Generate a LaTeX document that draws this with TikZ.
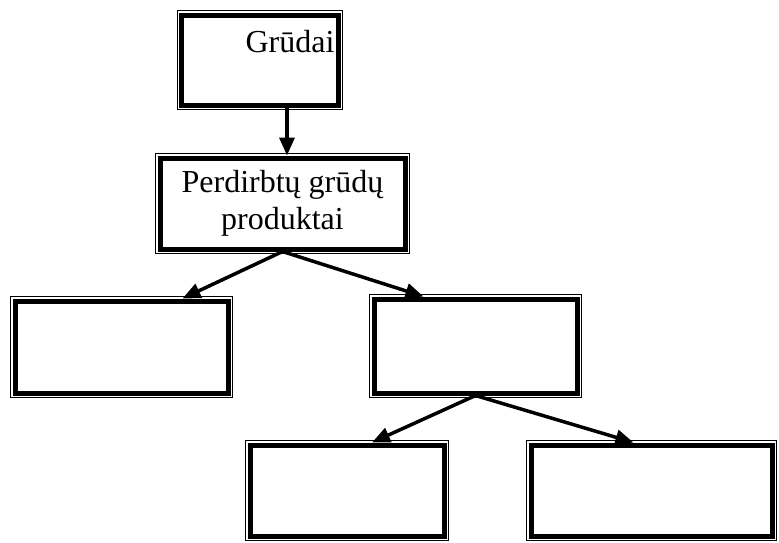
\documentclass[tikz,border=0pt]{standalone}
\usepackage{fontspec}
\setmainfont{Liberation Serif}
\usepackage{tikz}
\usetikzlibrary{arrows.meta,positioning}

\begin{document}
\begin{tikzpicture}[
  x=1pt, y=-1pt,
  every node/.style={font=\fontsize{32}{37}\selectfont, align=center},
  box/.style={rectangle, draw=black, fill=white, line width=5pt, inner sep=4pt,
    preaction={draw, line width=10pt},
    preaction={draw, white, line width=8pt}},
  arrow/.style={-{Triangle[length=18pt, width=15pt]}, line width=3.5pt}
]

\useasboundingbox (0,0) rectangle (779,542);

\node[box, minimum width=152pt, minimum height=90pt, text height=27pt, text depth=43pt] (grudai) at (260,60) {\hspace*{60pt}Grūdai};
\node[box, minimum width=245pt, minimum height=91pt] (perdirbti) at (282.5,203.5) {Perdirbtų grūdų\\produktai};

\node[box, minimum width=213pt, minimum height=92pt] (kaire) at (121.5,347) {};
\node[box, minimum width=203pt, minimum height=94pt] (vidurys) at (475.5,346) {};

\node[box, minimum width=194pt, minimum height=91pt] (apacia1) at (347,490.5) {};
\node[box, minimum width=241pt, minimum height=91pt] (apacia2) at (651.5,490.5) {};

\draw[arrow] ([xshift=27pt]grudai.south) -- ([xshift=27pt]grudai.south |- perdirbti.north);
\draw[arrow] (perdirbti.south) -- ([xshift=61pt]kaire.north);
\draw[arrow] (perdirbti.south) -- ([xshift=-52pt]vidurys.north);
\draw[arrow] (vidurys.south) -- ([xshift=25pt]apacia1.north);
\draw[arrow] (vidurys.south) -- ([xshift=-18pt]apacia2.north);

\end{tikzpicture}
\end{document}
